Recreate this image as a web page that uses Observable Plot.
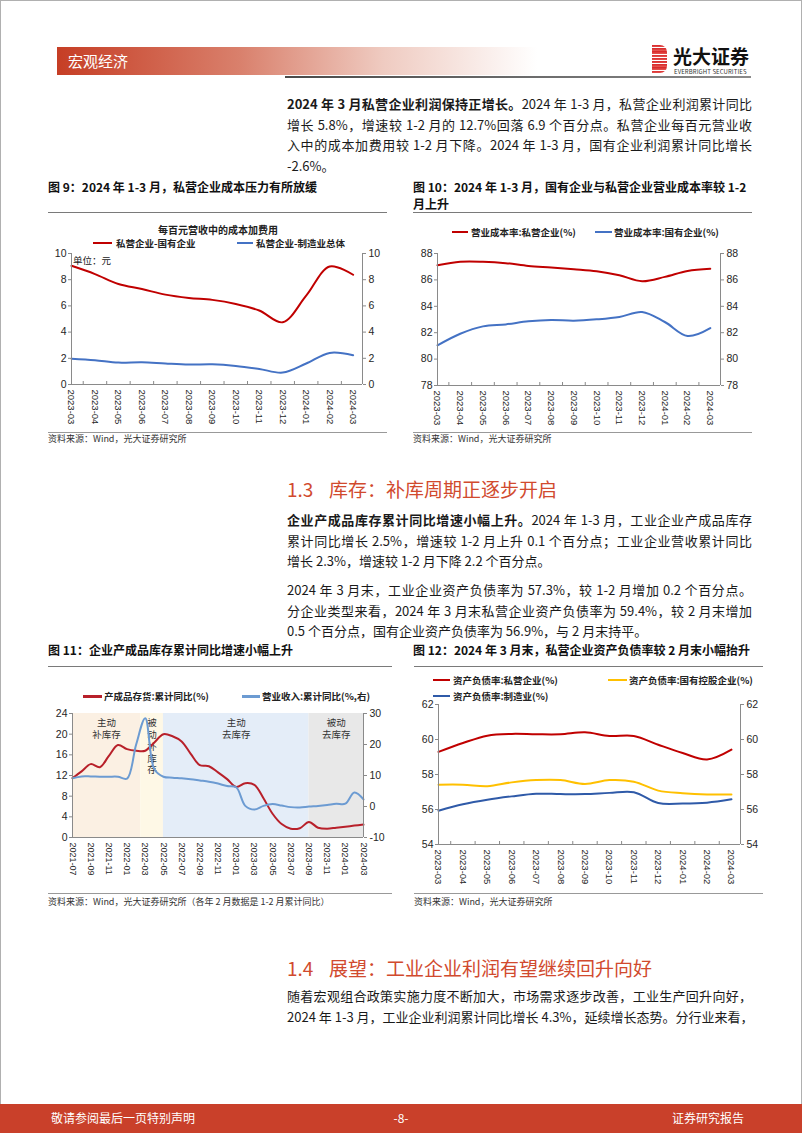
<!DOCTYPE html>
<html><head><meta charset="utf-8">
<script src="https://cdn.jsdelivr.net/npm/d3@7"></script>
<script src="https://cdn.jsdelivr.net/npm/@observablehq/plot@0.6"></script>
<style>
html,body{margin:0;padding:0;background:#fff;}
#page{position:relative;width:802px;height:1133px;overflow:hidden;font-family:"Noto Sans CJK SC","Noto Sans",sans-serif;color:#1a1a1a;box-shadow:inset 0 0 0 1px #b0b0b0;}
.a{position:absolute;white-space:nowrap;}
.para{position:absolute;left:287px;width:465px;font-size:13px;line-height:20.6px;color:#1a1a1a;}
.para div{white-space:nowrap;}
.para .j{text-align:justify;text-align-last:justify;}
.ctitle{position:absolute;font-size:12px;font-weight:bold;line-height:17px;color:#111;white-space:nowrap;}
.rule{position:absolute;height:1px;background:#7a7a7a;}
.src{position:absolute;font-size:9px;line-height:11px;color:#333;white-space:nowrap;}
.lg{position:absolute;height:2px;}
.lt{position:absolute;font-size:9.5px;line-height:12px;color:#222;font-weight:bold;white-space:nowrap;}
.sec{position:absolute;font-size:19px;line-height:24px;color:#D14A2E;white-space:nowrap;}
</style></head><body><div id="page">

<div class="a" style="left:57px;top:47px;width:480px;height:28px;background:linear-gradient(to right,#C63E25 0%,#D9806C 38%,#EFCBC1 68%,rgba(255,255,255,0) 100%);"></div>
<div class="a" style="left:68px;top:47px;line-height:28px;font-size:15px;color:#fff;">宏观经济</div>
<div class="a" style="left:285px;top:76px;width:466px;height:2px;background:linear-gradient(to right,#4a4a4a,#8a8a8a);"></div>
<div class="a" style="left:652px;top:45px;width:15px;height:28px;border-radius:0 7px 7px 0;background:repeating-linear-gradient(to bottom,#D8282A 0px,#E4544F 2.4px,#fff 2.4px,#fff 3.2px);"></div>
<div class="a" style="left:673px;top:44px;font-size:19px;line-height:24px;font-weight:bold;color:#111;">光大证券</div>
<div class="a" style="left:674px;top:68px;font-size:6px;line-height:7px;color:#333;letter-spacing:0.1px;">EVERBRIGHT SECURITIES</div>

<div class="para" style="top:94px;">
<div class="j"><b>2024 年 3 月私营企业利润保持正增长。</b>2024 年 1-3 月，私营企业利润累计同比</div>
<div class="j">增长 5.8%，增速较 1-2 月的 12.7%回落 6.9 个百分点。私营企业每百元营业收</div>
<div class="j">入中的成本加费用较 1-2 月下降。2024 年 1-3 月，国有企业利润累计同比增长</div>
<div>-2.6%。</div>
</div>

<div class="ctitle" style="left:48px;top:178px;">图 9：2024 年 1-3 月，私营企业成本压力有所放缓</div>
<div class="rule" style="left:48px;top:212px;width:339px;"></div>
<div class="ctitle" style="left:413px;top:178px;">图 10：2024 年 1-3 月，国有企业与私营企业营业成本率较 1-2<br>月上升</div>
<div class="rule" style="left:413px;top:212px;width:339px;"></div>

<div class="lt" style="left:158px;top:224px;font-size:10px;">每百元营收中的成本加费用</div>
<div class="lg" style="left:93px;top:242px;width:19px;background:#C00000;"></div>
<div class="lt" style="left:116px;top:237px;">私营企业-国有企业</div>
<div class="lg" style="left:237px;top:242px;width:16px;background:#4472C4;"></div>
<div class="lt" style="left:256px;top:237px;">私营企业-制造业总体</div>
<div class="a" style="left:73px;top:254px;font-size:9.5px;line-height:12px;color:#222;">单位：元</div>

<div class="lg" style="left:452px;top:231px;width:16px;background:#C00000;"></div>
<div class="lt" style="left:471px;top:226px;">营业成本率:私营企业(%)</div>
<div class="lg" style="left:595px;top:231px;width:17px;background:#4472C4;"></div>
<div class="lt" style="left:614px;top:226px;">营业成本率:国有企业(%)</div>

<div class="rule" style="left:48px;top:432px;width:339px;background:#999;"></div>
<div class="src" style="left:48px;top:433px;">资料来源：Wind，光大证券研究所</div>
<div class="rule" style="left:413px;top:432px;width:339px;background:#999;"></div>
<div class="src" style="left:413px;top:433px;">资料来源：Wind，光大证券研究所</div>

<div class="sec" style="left:287px;top:477px;">1.3</div>
<div class="sec" style="left:329px;top:477px;">库存：补库周期正逐步开启</div>

<div class="para" style="top:510px;">
<div class="j"><b>企业产成品库存累计同比增速小幅上升。</b>2024 年 1-3 月，工业企业产成品库存</div>
<div class="j">累计同比增长 2.5%，增速较 1-2 月上升 0.1 个百分点；工业企业营收累计同比</div>
<div>增长 2.3%，增速较 1-2 月下降 2.2 个百分点。</div>
</div>
<div class="para" style="top:580px;">
<div class="j">2024 年 3 月末，工业企业资产负债率为 57.3%，较 1-2 月增加 0.2 个百分点。</div>
<div class="j">分企业类型来看，2024 年 3 月末私营企业资产负债率为 59.4%，较 2 月末增加</div>
<div>0.5 个百分点，国有企业资产负债率为 56.9%，与 2 月末持平。</div>
</div>

<div class="ctitle" style="left:48px;top:641px;">图 11：企业产成品库存累计同比增速小幅上升</div>
<div class="rule" style="left:48px;top:666px;width:344px;"></div>
<div class="ctitle" style="left:413px;top:641px;">图 12：2024 年 3 月末，私营企业资产负债率较 2 月末小幅抬升</div>
<div class="rule" style="left:414px;top:666px;width:349px;"></div>

<div class="lg" style="left:83px;top:695px;width:19px;height:2.5px;background:#B8202A;"></div>
<div class="lt" style="left:104px;top:690px;">产成品存货:累计同比(%)</div>
<div class="lg" style="left:242px;top:695px;width:18px;height:2.5px;background:#6C9BD2;"></div>
<div class="lt" style="left:262px;top:690px;">营业收入:累计同比(%,右)</div>

<div class="lg" style="left:433px;top:679px;width:17px;background:#C00000;"></div>
<div class="lt" style="left:453px;top:674px;">资产负债率:私营企业(%)</div>
<div class="lg" style="left:608px;top:679px;width:19px;background:#FFC000;"></div>
<div class="lt" style="left:629px;top:674px;">资产负债率:国有控股企业(%)</div>
<div class="lg" style="left:433px;top:695px;width:17px;background:#2F5AA8;"></div>
<div class="lt" style="left:453px;top:690px;">资产负债率:制造业(%)</div>

<div class="rule" style="left:48px;top:893px;width:344px;background:#999;"></div>
<div class="src" style="left:48px;top:896px;">资料来源：Wind，光大证券研究所（各年 2 月数据是 1-2 月累计同比）</div>
<div class="rule" style="left:414px;top:893px;width:349px;background:#999;"></div>
<div class="src" style="left:414px;top:896px;">资料来源：Wind，光大证券研究所</div>

<div class="sec" style="left:287px;top:956px;">1.4</div>
<div class="sec" style="left:329px;top:956px;">展望：工业企业利润有望继续回升向好</div>

<div class="para" style="top:986px;">
<div class="j">随着宏观组合政策实施力度不断加大，市场需求逐步改善，工业生产回升向好，</div>
<div class="j">2024 年 1-3 月，工业企业利润累计同比增长 4.3%，延续增长态势。分行业来看，</div>
</div>

<div class="a" style="left:0;top:1104px;width:802px;height:29px;background:#C9402A;"></div>
<div class="a" style="left:51px;top:1110px;font-size:12px;line-height:16px;color:#fff;">敬请参阅最后一页特别声明</div>
<div class="a" style="left:391px;top:1110px;width:20px;text-align:center;font-size:12px;line-height:16px;color:#fff;">-8-</div>
<div class="a" style="left:672px;top:1110px;width:72px;text-align:right;font-size:12px;line-height:16px;color:#fff;">证券研究报告</div>

</div>
<script>
// ---------- data ----------
const months13 = ["2023-03","2023-04","2023-05","2023-06","2023-07","2023-08","2023-09","2023-10","2023-11","2023-12","2024-01","2024-02","2024-03"];

// Fig 9: cost+expense per 100 yuan revenue (difference)
const fig9PrivateMinusState = [9.06,8.43,7.67,7.29,6.86,6.61,6.46,6.15,5.65,4.75,6.78,9.01,8.38];
const fig9PrivateMinusMfg   = [1.97,1.85,1.67,1.70,1.60,1.52,1.54,1.42,1.19,0.91,1.60,2.41,2.23];
const fig9Ticks = [0,2,4,6,8,10];

// Fig 10: operating cost ratio (%)
const fig10Private = [87.11,87.37,87.37,87.27,87.06,86.94,86.81,86.66,86.35,85.90,86.23,86.68,86.84];
const fig10State   = [81.04,81.92,82.48,82.63,82.86,82.96,82.91,83.01,83.19,83.57,82.81,81.75,82.35];
const fig10Ticks = [78,80,82,84,86,88];

// Fig 11: finished goods inventory vs revenue, cumulative YoY (%)
const months33 = ["2021-07","2021-08","2021-09","2021-10","2021-11","2021-12","2022-01","2022-02","2022-03","2022-04","2022-05","2022-06","2022-07","2022-08","2022-09","2022-10","2022-11","2022-12","2023-01","2023-02","2023-03","2023-04","2023-05","2023-06","2023-07","2023-08","2023-09","2023-10","2023-11","2023-12","2024-01","2024-02","2024-03"];
const fig11Inventory = [11.5,12.8,14.2,13.6,15.8,17.9,17.1,16.8,16.8,18.4,20.0,19.6,18.6,16.2,14.0,13.8,12.6,11.3,9.8,10.5,10.2,7.6,4.6,2.6,1.7,1.8,3.0,1.9,1.7,1.9,2.1,2.3,2.5];
const fig11Revenue   = [9.1,9.7,9.7,9.6,9.6,9.6,9.0,20.0,28.5,12.0,9.6,9.3,9.1,8.8,8.4,8.0,7.4,6.6,6.2,0.2,-1.0,0.2,0.8,0.3,-0.2,-0.3,0.0,0.2,0.5,0.9,0.9,4.5,2.3];
const fig11LabelMonths = ["2021-07","2021-09","2021-11","2022-01","2022-03","2022-05","2022-07","2022-09","2022-11","2023-01","2023-03","2023-05","2023-07","2023-09","2023-11","2024-01","2024-03"];
const fig11LeftTicks = [0,4,8,12,16,20,24];
const fig11RightTicks = [-10,0,10,20,30];
const phaseLabels = ["主动\n补库存","被\n动\n补\n库\n存","主动\n去库存","被动\n去库存"];
const phaseStart = [0,7.5,10,26];
const phaseEnd   = [7.5,10,26,32];

// Fig 12: asset-liability ratio (%)
const fig12Private = [59.29,59.80,60.22,60.32,60.30,60.30,60.41,60.20,60.20,59.70,59.23,58.86,59.42];
const fig12State   = [57.42,57.42,57.33,57.55,57.68,57.68,57.46,57.68,57.59,57.08,56.93,56.86,56.86];
const fig12Mfg     = [55.93,56.30,56.56,56.75,56.90,56.88,56.88,56.95,56.99,56.37,56.34,56.39,56.58];
const fig12Ticks = [54,56,58,60,62];

// ---------- drawing ----------
const page = document.getElementById("page");
const AX = "#8a8a8a";
const phaseColors = ["#FBF0E3","#FEF8E6","#E4EDF8","#E8E8E8"];

function chart(cfg){
  const innerH = cfg.height - cfg.mT - cfg.mB;
  const marks = [...(cfg.under || [])];
  cfg.series.forEach(s => marks.push(Plot.line(s.values, {
    x: (d,i) => i, y: s.map ? (d => s.map(d)) : (d => d),
    stroke: s.color, strokeWidth: s.width || 2, curve: "catmull-rom"
  })));
  marks.push(Plot.ruleY([cfg.yDomain[0]], {stroke: AX}));
  marks.push(Plot.ruleX([cfg.xDomain[0]], {stroke: AX}));
  marks.push(Plot.ruleX([cfg.xDomain[1]], {stroke: AX}));
  marks.push(Plot.axisY(cfg.yTicks, {anchor: "left", tickSize: 3, tickPadding: 2, stroke: AX, label: null, fontSize: 10.5}));
  const rOpts = {anchor: "right", tickSize: 3, tickPadding: 3, stroke: AX, label: null, fontSize: 10.5};
  if (cfg.rightFormat) rOpts.tickFormat = cfg.rightFormat;
  marks.push(Plot.axisY(cfg.rightTicks || cfg.yTicks, rOpts));
  marks.push(Plot.axisX(cfg.xTicks, {anchor: "bottom", tickSize: 0, tickPadding: 5, tickRotate: 90,
    tickFormat: cfg.xFormat, label: null, fontSize: cfg.xFont || 9.5}));
  if (cfg.xBounds) marks.push(Plot.ruleX(cfg.xBounds, {stroke: AX, insetTop: innerH - 3}));
  const svg = Plot.plot({
    width: cfg.width, height: cfg.height,
    marginLeft: cfg.mL, marginTop: cfg.mT, marginRight: cfg.mR, marginBottom: cfg.mB,
    x: {type: "linear", domain: cfg.xDomain, axis: null},
    y: {domain: cfg.yDomain, axis: null},
    style: {fontFamily: "'Liberation Sans', Arial, 'Noto Sans CJK SC', sans-serif", fontSize: "10px", color: "#262626", background: "transparent", overflow: "visible"},
    marks
  });
  svg.style.position = "absolute";
  svg.style.left = cfg.left + "px";
  svg.style.top = cfg.top + "px";
  page.appendChild(svg);
}

const idx13 = months13.map((m,i) => i);
const bounds13 = months13.slice(1).map((m,i) => i + 0.5);

// Figure 9
chart({
  left: 40, top: 246, width: 355, height: 190, mL: 31, mT: 7, mR: 33, mB: 52,
  xDomain: [0, 12.4], yDomain: [0, 10], yTicks: fig9Ticks,
  xTicks: idx13, xFormat: i => months13[i], xBounds: bounds13,
  series: [
    {values: fig9PrivateMinusState, color: "#C00000"},
    {values: fig9PrivateMinusMfg, color: "#4472C4"}
  ]
});

// Figure 10
chart({
  left: 405, top: 246, width: 355, height: 190, mL: 32, mT: 7, mR: 40, mB: 51,
  xDomain: [0, 12.45], yDomain: [78, 88], yTicks: fig10Ticks,
  xTicks: idx13, xFormat: i => months13[i], xBounds: bounds13,
  series: [
    {values: fig10Private, color: "#C00000"},
    {values: fig10State, color: "#4472C4"}
  ]
});

// Figure 11 (right axis mapped onto left scale: -10..30 -> 0..24)
const r2l = v => (v + 10) * 0.6;
const l2r = v => Math.round(v / 0.6 - 10);
const fig11LabelIdx = fig11LabelMonths.map(m => months33.indexOf(m));
const phases = phaseLabels.map((t,i) => ({label: t, s: phaseStart[i], e: phaseEnd[i], c: phaseColors[i]}));
chart({
  left: 40, top: 706, width: 355, height: 180, mL: 32, mT: 7, mR: 32, mB: 49,
  xDomain: [0, 32], yDomain: [0, 24], yTicks: fig11LeftTicks,
  rightTicks: fig11RightTicks.map(r2l), rightFormat: l2r,
  xTicks: fig11LabelIdx, xFormat: i => months33[i], xFont: 9,
  under: [
    Plot.rect(phases, {x1: "s", x2: "e", fill: "c"}),
    Plot.text(phases, {x: d => (d.s + d.e) / 2, text: "label", frameAnchor: "top", lineAnchor: "top", dy: 4,
      fontSize: 9.5, lineHeight: 1.25, fill: "#333", fontFamily: "'Noto Sans CJK SC', sans-serif"})
  ],
  series: [
    {values: fig11Inventory, color: "#B8202A"},
    {values: fig11Revenue, color: "#6C9BD2", map: r2l}
  ]
});

// Figure 12
chart({
  left: 405, top: 697, width: 360, height: 190, mL: 33, mT: 7, mR: 25, mB: 43,
  xDomain: [0, 12.37], yDomain: [54, 62], yTicks: fig12Ticks,
  xTicks: idx13, xFormat: i => months13[i], xBounds: bounds13,
  series: [
    {values: fig12Private, color: "#C00000"},
    {values: fig12State, color: "#FFC000"},
    {values: fig12Mfg, color: "#2F5AA8"}
  ]
});
</script>
</body></html>
